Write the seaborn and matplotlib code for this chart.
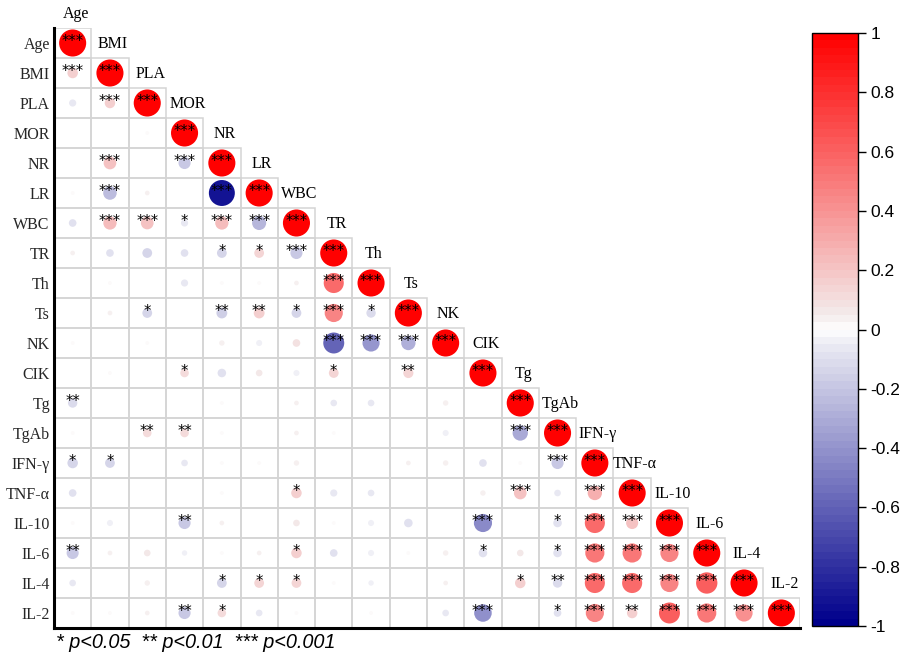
import matplotlib
matplotlib.use("Agg")
import matplotlib.pyplot as plt
import numpy as np
import pandas as pd
import seaborn as sns
from matplotlib.colors import LinearSegmentedColormap, Normalize
from matplotlib.cm import ScalarMappable
from matplotlib.patches import Rectangle

# Variables in matrix order
variables = ["Age", "BMI", "PLA", "MOR", "NR", "LR", "WBC", "TR", "Th", "Ts",
             "NK", "CIK", "Tg", "TgAb", "IFN-γ", "TNF-α", "IL-10", "IL-6", "IL-4", "IL-2"]

# Lower-triangle correlation coefficients (row i holds columns 0..i-1)
lower_r = [
    [],
    [0.15],
    [-0.07, 0.15],
    [0.0, 0.0, 0.02],
    [0.0, 0.22, 0.0, -0.2],
    [0.02, -0.25, 0.03, 0.0, -0.92],
    [-0.08, 0.24, 0.22, -0.07, 0.24, -0.27],
    [0.03, -0.08, -0.13, -0.08, -0.13, 0.13, -0.2],
    [0.0, 0.02, 0.0, -0.07, 0.02, 0.02, 0.03, 0.55],
    [0.0, 0.03, -0.13, 0.0, -0.16, 0.16, -0.13, 0.45, -0.12],
    [0.02, 0.0, 0.02, 0.0, 0.04, -0.05, 0.08, -0.6, -0.4, -0.28],
    [0.0, 0.02, 0.0, 0.1, -0.1, 0.06, -0.05, 0.13, 0.0, 0.14, 0.0],
    [-0.12, 0.0, 0.0, 0.0, 0.02, 0.0, 0.03, -0.06, -0.06, 0.0, 0.04, 0.0],
    [0.02, 0.0, 0.1, 0.1, 0.02, 0.0, 0.03, 0.02, 0.0, 0.0, -0.05, 0.0, -0.32],
    [-0.15, -0.13, 0.0, -0.06, 0.02, 0.02, 0.04, 0.0, 0.0, 0.03, 0.04, -0.08, 0.02, -0.2],
    [-0.08, 0.0, 0.0, 0.0, 0.02, 0.0, 0.15, -0.07, -0.06, 0.0, 0.0, 0.04, 0.22, -0.06, 0.28],
    [0.02, -0.05, 0.0, -0.2, 0.03, 0.0, 0.06, 0.02, -0.05, -0.1, 0.0, -0.45, 0.0, -0.1, 0.55, 0.2],
    [-0.2, 0.03, 0.06, -0.04, 0.02, 0.03, 0.15, -0.08, -0.05, 0.02, 0.04, -0.1, 0.06, -0.1, 0.5, 0.5, 0.45],
    [-0.06, 0.0, 0.04, 0.0, -0.13, 0.13, 0.13, 0.02, -0.04, 0.0, 0.03, 0.0, 0.15, -0.12, 0.55, 0.55, 0.45, 0.62],
    [0.02, 0.02, 0.03, -0.2, 0.1, -0.06, 0.02, 0.0, 0.02, 0.0, -0.06, -0.42, 0.0, -0.08, 0.45, 0.15, 0.6, 0.5, 0.4],
]

# Significance codes for the same cells
lower_sig = [
    [],
    ["***"],
    ["", "***"],
    ["", "", ""],
    ["", "***", "", "***"],
    ["", "***", "", "", "***"],
    ["", "***", "***", "*", "***", "***"],
    ["", "", "", "", "*", "*", "***"],
    ["", "", "", "", "", "", "", "***"],
    ["", "", "*", "", "**", "**", "*", "***", "*"],
    ["", "", "", "", "", "", "", "***", "***", "***"],
    ["", "", "", "*", "", "", "", "*", "", "**", ""],
    ["**", "", "", "", "", "", "", "", "", "", "", ""],
    ["", "", "**", "**", "", "", "", "", "", "", "", "", "***"],
    ["*", "*", "", "", "", "", "", "", "", "", "", "", "", "***"],
    ["", "", "", "", "", "", "*", "", "", "", "", "", "***", "", "***"],
    ["", "", "", "**", "", "", "", "", "", "", "", "***", "", "*", "***", "***"],
    ["**", "", "", "", "", "", "*", "", "", "", "", "*", "", "*", "***", "***", "***"],
    ["", "", "", "", "*", "*", "*", "", "", "", "", "", "*", "**", "***", "***", "***", "***"],
    ["", "", "", "**", "*", "", "", "", "", "", "", "***", "", "*", "***", "**", "***", "***", "***"],
]

cbar_ticks = [1, 0.8, 0.6, 0.4, 0.2, 0, -0.2, -0.4, -0.6, -0.8, -1]
legend_text = "* p<0.05  ** p<0.01  *** p<0.001"

# Long-form table of the lower triangle including the diagonal
records = []
for i, name in enumerate(variables):
    vals = lower_r[i] + [1.0]
    sigs = lower_sig[i] + ["***"]
    for j in range(i + 1):
        records.append({"row": i, "col": j, "r": vals[j], "sig": sigs[j]})
df = pd.DataFrame(records)
df["mag"] = df["r"].abs()

sns.set_theme(style="white")
plt.rcParams["font.family"] = ["DejaVu Sans"]

W, H = 902, 657
fig = plt.figure(figsize=(W / 100, H / 100), dpi=100)
fig.patch.set_facecolor("white")
ax = fig.add_axes([54 / W, (H - 628) / H, 746 / W, 600 / H])

cmap = LinearSegmentedColormap.from_list(
    "corr",
    [(0.0, "#00008B"), (0.475, "#EBEBF3"), (0.5, "#FFFFFF"),
     (0.525, "#F3EBEB"), (1.0, "#FF0000")],
    N=80,
)

n = len(variables)
# cell frames
for i in range(n):
    for j in range(i + 1):
        ax.add_patch(Rectangle((j - 0.5, i - 0.5), 1, 1, fill=False,
                               edgecolor="#d4d4d4", linewidth=1.1, zorder=1))

sns.scatterplot(data=df, x="col", y="row", hue="r", size="mag",
                palette=cmap, hue_norm=(-1, 1), sizes=(0, 380), size_norm=(0, 1),
                linewidth=0, legend=False, ax=ax, zorder=3)

for _, rec in df.iterrows():
    if rec["sig"]:
        ax.text(rec["col"], rec["row"] - 0.04, rec["sig"], ha="center", va="center",
                fontsize=10.5, color="black", zorder=4, family="DejaVu Sans")

# column headers sit just right of the diagonal, one row up
for j, name in enumerate(variables):
    ax.text(j + 0.08, j - 0.95, name, ha="center", va="center",
            fontsize=11.5, family="Liberation Serif", color="black", zorder=4)

ax.set_xlim(-0.5, n - 0.5)
ax.set_ylim(n - 0.5, -0.5)
ax.set_xticks([])
ax.set_yticks(range(n))
ax.set_yticklabels(variables, fontsize=11.5, family="Liberation Serif")
ax.tick_params(axis="y", length=0, pad=3)
ax.set_xlabel("")
ax.set_ylabel("")
for s in ["top", "right"]:
    ax.spines[s].set_visible(False)
for s in ["left", "bottom"]:
    ax.spines[s].set_color("black")
    ax.spines[s].set_linewidth(2.2)

# colour bar
cax = fig.add_axes([812 / W, (H - 626) / H, 46 / W, 593 / H])
sm = ScalarMappable(norm=Normalize(-1, 1), cmap=cmap)
cb = fig.colorbar(sm, cax=cax)
cb.set_ticks(cbar_ticks)
cb.set_ticklabels([f"{t:g}" for t in cbar_ticks])
cb.outline.set_edgecolor("black")
cb.outline.set_linewidth(1.0)
cax.tick_params(axis="y", direction="out", length=6, width=1, labelsize=12.5,
                pad=3, colors="black")
for lbl in cax.get_yticklabels():
    lbl.set_family("Liberation Sans")

fig.text(56 / W, (H - 643) / H, legend_text, ha="left", va="center",
         fontsize=14.3, style="italic", family="Liberation Sans", color="black")

fig.savefig("out.png", dpi=100, facecolor="white")
